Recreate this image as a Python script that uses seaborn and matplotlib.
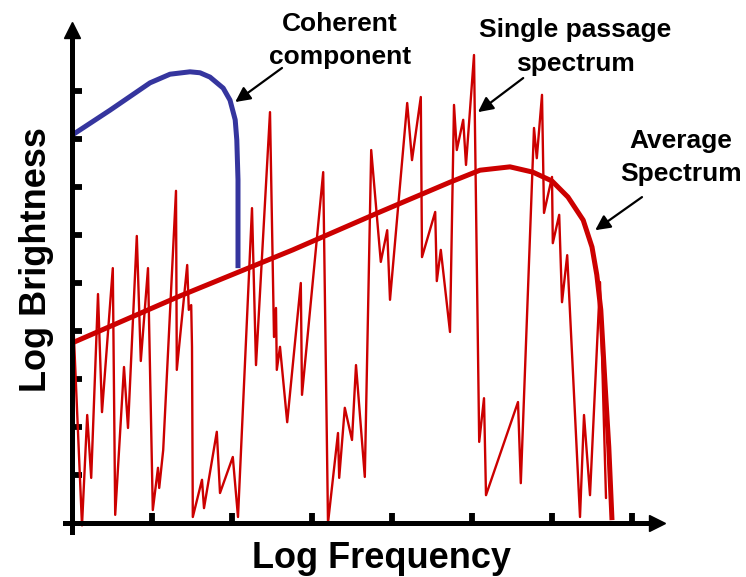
import numpy as np
import pandas as pd
import matplotlib
matplotlib.use("Agg")
import matplotlib.pyplot as plt
import seaborn as sns

# ---- data (arbitrary log units) ----
single_x = [0, 1.25, 1.9, 2.4, 3.25, 3.75, 5.1, 5.4, 6.5, 7.0, 8.1, 8.6, 9.5, 10.1, 10.75, 10.9, 11.4,
            13.0, 13.1, 14.4, 14.6, 14.9, 15.0, 15.1, 16.25, 16.5, 18.1, 18.5, 20.1, 20.75, 22.5, 23.0,
            24.75, 25.25, 25.5, 25.6, 26.0, 26.9, 28.6, 28.75, 31.4, 32.0, 33.25, 33.4, 34.1, 35.0, 35.5,
            36.6, 37.4, 38.6, 39.4, 39.75, 41.9, 42.5, 43.6, 43.75, 45.4, 45.6, 46.1, 47.25, 47.75, 48.1,
            48.9, 49.25, 50.25, 50.9, 51.5, 51.75, 55.75, 56.1, 57.75, 58.1, 58.75, 59.0, 60.0, 60.1,
            60.9, 61.25, 61.9, 63.5, 64.0, 64.75, 66.0, 66.75]
single_y = [48.1, -0.5, 22.5, 9.4, 47.7, 23.1, 53.1, 1.7, 32.5, 19.8, 59.8, 33.75, 53.1, 2.7, 11.5, 7.3, 15.2,
            69.2, 31.9, 53.75, 44.4, 45.4, 36.7, 1.25, 9.0, 3.1, 19.0, 6.25, 13.75, 1.25, 65.6, 32.9,
            85.6, 38.75, 44.8, 31.9, 36.7, 21.0, 50.0, 26.7, 73.1, 0.0, 18.75, 9.4, 24.0, 17.3, 32.9,
            9.6, 77.7, 54.4, 61.0, 46.5, 87.5, 75.6, 88.75, 55.4, 64.8, 50.4, 56.9, 39.8, 87.1, 77.7,
            84.0, 74.6, 97.5, 16.9, 26.0, 5.8, 25.2, 8.3, 82.3, 76.0, 89.2, 64.6, 72.1, 58.3,
            64.2, 46.0, 55.8, 1.25, 22.5, 5.8, 50.2, 5.2]

average_x = [0, 13.5, 27.6, 38.5, 47.25, 51.0, 54.75, 57.6, 60.0, 62.0, 63.9, 65.0, 65.6, 66.1, 66.6, 67.1, 67.5]
average_y = [37.5, 47.3, 56.9, 64.8, 71.0, 73.5, 74.2, 73.1, 71.25, 67.9, 63.1, 57.5, 51.7, 44.4, 29.8, 15.8, 0.6]

coherent_x = [0, 4.75, 9.75, 12.25, 14.75, 16.0, 17.25, 18.9, 19.75, 20.4, 20.6, 20.75, 20.75]
coherent_y = [80.8, 86.0, 91.7, 93.5, 94.0, 93.8, 92.9, 90.6, 88.1, 84.0, 79.8, 71.5, 53.1]

x_ticks = [10, 20, 30, 40, 50, 60, 70]
y_ticks = [10, 20, 30, 40, 50, 60, 70, 80, 90]

RED = "#CC0000"
BLUE = "#35359E"

sns.set_style("white")
plt.rcParams["font.family"] = ["Liberation Sans", "DejaVu Sans"]
plt.rcParams["text.color"] = "black"

fig = plt.figure(figsize=(7.46, 5.77), dpi=100)
ax = fig.add_axes([65 / 746, 45 / 577, 592 / 746, 502 / 577])

df_single = pd.DataFrame({"x": single_x, "y": single_y})
df_avg = pd.DataFrame({"x": average_x, "y": average_y})
df_coh = pd.DataFrame({"x": coherent_x, "y": coherent_y})

sns.lineplot(data=df_single, x="x", y="y", estimator=None, sort=False, color=RED,
             linewidth=1.7, ax=ax, solid_joinstyle="round", clip_on=False)
sns.lineplot(data=df_avg, x="x", y="y", estimator=None, sort=False, color=RED,
             linewidth=3.6, ax=ax, solid_joinstyle="round", solid_capstyle="butt", clip_on=False)
sns.lineplot(data=df_coh, x="x", y="y", estimator=None, sort=False, color=BLUE,
             linewidth=3.6, ax=ax, solid_joinstyle="round", solid_capstyle="butt")

ax.set_xlim(-0.875, 73.125)
ax.set_ylim(-1.875, 102.71)

# axes as arrows through origin
for s in ["top", "right"]:
    ax.spines[s].set_visible(False)
ax.spines["left"].set_position(("data", 0))
ax.spines["bottom"].set_position(("data", 0))
for s in ["left", "bottom"]:
    ax.spines[s].set_linewidth(3.6)
    ax.spines[s].set_color("black")
ax.plot(1, 0, ">", color="black", ms=11.5, transform=ax.get_yaxis_transform(), clip_on=False)
ax.plot(0, 1, "^", color="black", ms=11.5, transform=ax.get_xaxis_transform(), clip_on=False)

ax.set_xticks(x_ticks)
ax.set_yticks(y_ticks)
ax.tick_params(axis="both", which="major", direction="in", length=7.5, width=4.2, color="black",
               bottom=True, left=True, top=False, right=False,
               labelbottom=False, labelleft=False)
ax.set_xlabel("")
ax.set_ylabel("")

# annotations
afs = 19
tkw = dict(ha="center", va="baseline", fontsize=afs, fontweight="bold", color="black", clip_on=False)
ax.text(33.5, 102.5, "Coherent", **tkw)
ax.text(33.5, 95.6, "component", **tkw)
ax.text(62.9, 101.25, "Single passage", **tkw)
ax.text(62.9, 94.2, "spectrum", **tkw)
ax.text(76.1, 78.1, "Average", **tkw)
ax.text(76.1, 71.25, "Spectrum", **tkw)

arrowprops = dict(arrowstyle="-|>,head_length=0.9,head_width=0.45", color="black", lw=1.6,
                  shrinkA=0, shrinkB=0)
ax.annotate("", xy=(20.4, 87.7), xytext=(26.25, 94.8), arrowprops=arrowprops, annotation_clip=False)
ax.annotate("", xy=(50.75, 85.6), xytext=(56.4, 92.7), arrowprops=arrowprops, annotation_clip=False)
ax.annotate("", xy=(65.4, 61.0), xytext=(71.25, 67.9), arrowprops=arrowprops, annotation_clip=False)

fig.text(381 / 746, 9 / 577, "Log Frequency", ha="center", va="baseline", fontsize=26,
         fontweight="bold", color="black")
fig.text(46 / 746, (577 - 260) / 577, "Log Brightness", ha="center", va="baseline", rotation=90,
         rotation_mode="anchor", fontsize=26, fontweight="bold", color="black")

fig.savefig("out.png", dpi=100)
